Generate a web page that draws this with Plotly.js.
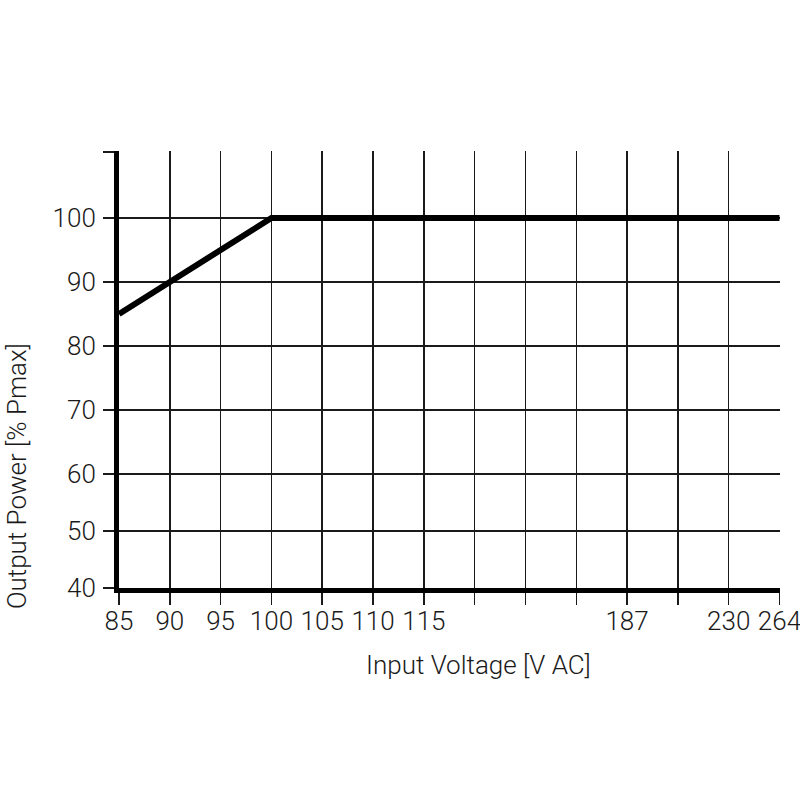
<!DOCTYPE html>
<html>
<head>
<meta charset="utf-8">
<script src="https://cdn.plot.ly/plotly-3.0.1.min.js"></script>
<style>
    html, body { margin: 0; padding: 0; background: #fff; }
    #derating { width: 800px; height: 800px; }
</style>
</head>
<body>
<div id="derating"></div>
<script>
// voltage labels along the bottom, one per grid line (blank = unlabelled line)
const xTickVoltages = [85, 90, 95, 100, 105, 110, 115, null, null, null, 187, null, 230, 264];
const xTickLabels = ['85', '90', '95', '100', '105', '110', '115', '', '', '', '187', '', '230', '264'];

// power labels on the left
const yTickValues = [40, 50, 60, 70, 80, 90, 100];
const yTickLabels = ['40', '50', '60', '70', '80', '90', '100'];

// derating curve
const inputVoltage = [85, 100, 264];
const outputPower = [85, 100, 100];

// the printed grid is not evenly spaced, so keep the line positions of each tick
const yGridPos = [0, 57, 114, 178, 242, 306, 370];
const yTop = 436;

document.addEventListener('DOMContentLoaded', function() {
    drawChart();
});

function interp(v, vals, pos) {
    for (let i = 0; i < vals.length - 1; i++) {
        if (v >= vals[i] && v <= vals[i + 1]) {
            return pos[i] + (v - vals[i]) / (vals[i + 1] - vals[i]) * (pos[i + 1] - pos[i]);
        }
    }
    return v < vals[0] ? pos[0] : pos[pos.length - 1];
}

function drawChart() {
    const xIdx = xTickVoltages.map((v, i) => i);
    const labelledV = [];
    const labelledPos = [];
    xTickVoltages.forEach((v, i) => {
        if (v !== null) {
            labelledV.push(v);
            labelledPos.push(i);
        }
    });

    const font = 'Roboto, Liberation Sans, sans-serif';
    const nLast = xTickVoltages.length - 1;

    const trace = {
        type: 'scatter',
        mode: 'lines',
        x: inputVoltage.map(v => interp(v, labelledV, labelledPos)),
        y: outputPower.map(p => interp(p, yTickValues, yGridPos)),
        line: { color: '#000', width: 6 },
        cliponaxis: false,
        hoverinfo: 'skip',
        showlegend: false
    };

    const layout = {
        width: 800,
        height: 800,
        margin: { l: 119, r: 20, t: 151, b: 212 },
        paper_bgcolor: '#fff',
        plot_bgcolor: '#fff',
        font: { family: font, size: 26, color: '#1a1a1a', weight: 300 },
        xaxis: {
            // a hair of padding so the last grid line (right border) is kept
            range: [0, nLast + 0.01],
            tickmode: 'array',
            tickvals: xIdx,
            ticktext: xTickLabels,
            ticklabeloverflow: 'allow',
            ticklabelstandoff: -6,
            showgrid: true,
            gridcolor: '#1a1a1a',
            gridwidth: 1.5,
            showline: true,
            linecolor: '#000',
            linewidth: 5,
            ticks: 'outside',
            ticklen: 12,
            tickwidth: 1.5,
            tickcolor: '#1a1a1a',
            zeroline: false,
            fixedrange: true
        },
        yaxis: {
            range: [0, yTop + 1],
            tickmode: 'array',
            tickvals: yGridPos.concat([yTop]),
            ticktext: yTickLabels.concat(['']),
            ticklabelstandoff: 2,
            showgrid: true,
            gridcolor: '#1a1a1a',
            gridwidth: 1.5,
            showline: true,
            linecolor: '#000',
            linewidth: 5,
            ticks: 'outside',
            ticklen: 11,
            tickwidth: 1.5,
            tickcolor: '#1a1a1a',
            zeroline: false,
            fixedrange: true
        },
        annotations: [
            {
                text: 'Input Voltage [V AC]',
                xref: 'paper', yref: 'paper',
                x: 0.544, y: -0.177,
                xanchor: 'center', yanchor: 'middle',
                showarrow: false,
                font: { family: font, size: 26, color: '#1a1a1a', weight: 300 }
            },
            {
                text: 'Output Power [% Pmax]',
                xref: 'paper', yref: 'paper',
                x: -0.155, y: 0.255,
                xanchor: 'center', yanchor: 'middle',
                textangle: -90,
                showarrow: false,
                font: { family: font, size: 26, color: '#1a1a1a', weight: 300 }
            }
        ]
    };

    Plotly.newPlot('derating', [trace], layout, { staticPlot: true, displayModeBar: false });
}
</script>
</body>
</html>
